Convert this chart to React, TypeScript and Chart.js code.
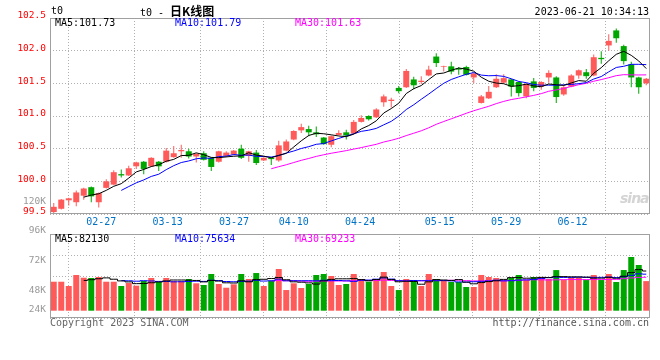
import React, { useEffect, useRef } from 'react';
import { Chart, registerables } from 'chart.js';

Chart.register(...registerables);

// ---------- data ----------
const dates = [
  '02-23', '02-24', '02-27', '02-28',
  '03-01', '03-02', '03-03', '03-06', '03-07', '03-08', '03-09', '03-10', '03-13', '03-14', '03-15', '03-16', '03-17',
  '03-20', '03-21', '03-22', '03-23', '03-24', '03-27', '03-28', '03-29', '03-30', '03-31',
  '04-03', '04-04', '04-06', '04-07', '04-10', '04-11', '04-12', '04-13', '04-14', '04-17', '04-18', '04-19', '04-20',
  '04-21', '04-24', '04-25', '04-26', '04-27', '04-28',
  '05-04', '05-05', '05-08', '05-09', '05-10', '05-11', '05-12', '05-15', '05-16', '05-17', '05-18', '05-19',
  '05-22', '05-23', '05-24', '05-25', '05-26', '05-29', '05-30', '05-31',
  '06-01', '06-02', '06-05', '06-06', '06-07', '06-08', '06-09', '06-12', '06-13', '06-14', '06-15', '06-16', '06-19', '06-20',
];

const opens = [
  99.53, 99.58, 99.71, 99.68, 99.78, 99.91, 99.68, 99.90, 99.95, 100.11,
  100.09, 100.23, 100.30, 100.23, 100.30, 100.30, 100.37, 100.46, 100.46, 100.38,
  100.43, 100.36, 100.30, 100.39, 100.41, 100.50, 100.39, 100.44, 100.32, 100.36,
  100.32, 100.47, 100.64, 100.78, 100.80, 100.75, 100.67, 100.56, 100.71, 100.75,
  100.73, 100.91, 101.00, 100.98, 101.21, 101.23, 101.43, 101.44, 101.56, 101.52,
  101.62, 101.91, 101.75, 101.76, 101.73, 101.75, 101.59, 101.20, 101.27, 101.44,
  101.51, 101.56, 101.52, 101.30, 101.53, 101.45, 101.59, 101.59, 101.33, 101.45,
  101.62, 101.67, 101.62, 101.89, 102.08, 102.31, 102.07, 101.79, 101.59, 101.50,
];
const closes = [
  99.61, 99.72, 99.74, 99.83, 99.89, 99.77, 99.82, 100.00, 100.14, 100.09,
  100.20, 100.29, 100.19, 100.36, 100.23, 100.47, 100.43, 100.48, 100.38, 100.42,
  100.33, 100.22, 100.46, 100.44, 100.47, 100.36, 100.46, 100.28, 100.36, 100.34,
  100.55, 100.61, 100.77, 100.83, 100.75, 100.72, 100.57, 100.69, 100.74, 100.70,
  100.91, 100.97, 100.95, 101.10, 101.30, 101.25, 101.38, 101.69, 101.47, 101.54,
  101.71, 101.81, 101.76, 101.68, 101.71, 101.63, 101.65, 101.30, 101.37, 101.57,
  101.58, 101.45, 101.35, 101.49, 101.43, 101.52, 101.66, 101.29, 101.44, 101.62,
  101.70, 101.61, 101.90, 101.87, 102.15, 102.19, 101.84, 101.59, 101.44, 101.57,
];
const highs = [
  99.67, 99.73, 99.75, 99.86, 99.90, 99.92, 99.83, 100.03, 100.17, 100.18,
  100.24, 100.30, 100.31, 100.37, 100.31, 100.51, 100.54, 100.56, 100.50, 100.43,
  100.46, 100.37, 100.47, 100.46, 100.48, 100.56, 100.47, 100.48, 100.37, 100.37,
  100.62, 100.64, 100.78, 100.88, 100.85, 100.84, 100.68, 100.70, 100.78, 100.79,
  100.94, 101.01, 101.01, 101.12, 101.33, 101.28, 101.46, 101.72, 101.60, 101.61,
  101.77, 101.96, 101.77, 101.83, 101.75, 101.77, 101.66, 101.32, 101.46, 101.64,
  101.64, 101.57, 101.53, 101.50, 101.58, 101.53, 101.70, 101.61, 101.47, 101.64,
  101.71, 101.72, 101.94, 101.99, 102.25, 102.34, 102.09, 101.83, 101.60, 101.58,
];
const lows = [
  99.51, 99.57, 99.63, 99.62, 99.72, 99.68, 99.60, 99.89, 99.94, 100.06,
  100.08, 100.19, 100.11, 100.22, 100.16, 100.29, 100.36, 100.36, 100.35, 100.29,
  100.32, 100.16, 100.29, 100.37, 100.40, 100.34, 100.30, 100.25, 100.31, 100.25,
  100.30, 100.46, 100.63, 100.74, 100.69, 100.68, 100.56, 100.52, 100.70, 100.64,
  100.72, 100.90, 100.93, 100.97, 101.14, 101.13, 101.35, 101.43, 101.41, 101.49,
  101.61, 101.75, 101.68, 101.64, 101.63, 101.62, 101.50, 101.19, 101.26, 101.43,
  101.50, 101.30, 101.30, 101.27, 101.38, 101.40, 101.51, 101.20, 101.31, 101.44,
  101.57, 101.57, 101.61, 101.80, 102.00, 102.12, 101.79, 101.44, 101.34, 101.47,
];
const volumes = [
  60000, 60000, 51100, 73900, 68300, 67700, 69800, 60000, 60000, 51100,
  57300, 51800, 61500, 67700, 59400, 67700, 61500, 61500, 65600, 56700,
  53200, 76000, 55300, 47600, 54600, 76000, 65600, 78000, 51100, 62100,
  86300, 42800, 56700, 47000, 55300, 73900, 76000, 71800, 53200, 55300,
  76000, 65600, 60000, 65600, 80100, 51100, 42800, 65600, 63500, 51100,
  76000, 65600, 61500, 59400, 59400, 49100, 49100, 74000, 69800, 67700,
  63500, 67700, 73900, 63500, 69800, 69800, 65600, 84100, 63500, 67700,
  68700, 63500, 73900, 63500, 76000, 59400, 84200, 111200, 94600, 61300,
];

const priceTickValues = [99.5, 100.0, 100.5, 101.0, 101.5, 102.0, 102.5];
const dateTickLabels = ['02-27', '03-13', '03-27', '04-10', '04-24', '05-15', '05-29', '06-12'];
const volumeTickLabels = ['120K', '96K', '72K', '48K', '24K'];
const volumeTickValues = [120000, 96000, 72000, 48000, 24000];

const priceLegend = ['MA5:101.73', 'MA10:101.79', 'MA30:101.63'];
const volumeLegend = ['MA5:82130', 'MA10:75634', 'MA30:69233'];
const maPeriods = [5, 10, 30];

// ---------- styles ----------
const MONO = '"DejaVu Sans Mono", "Liberation Mono", monospace';
const UP = '#ff5a5a';
const DOWN = '#00a600';
const MA_COLORS = ['#000000', '#0000ff', '#ff00ff'];
const GRID = '#b0b0b0';
const FRAME = '#a0a0a0';

function movingAverage(values: number[], n: number): (number | null)[] {
  return values.map((_, i) => {
    if (i < n - 1) return null;
    let s = 0;
    for (let k = i - n + 1; k <= i; k++) s += values[k];
    return s / n;
  });
}

const candleColors = closes.map((c, i) => (c >= opens[i] ? UP : DOWN));
const dateTickIndex = dateTickLabels.map((d) => dates.indexOf(d));

const framePlugin = {
  id: 'frame',
  afterDatasetsDraw(chart: any) {
    const { left, top, right, bottom } = chart.chartArea;
    const ctx = chart.ctx;
    ctx.save();
    ctx.strokeStyle = FRAME;
    ctx.lineWidth = 1;
    ctx.strokeRect(Math.round(left) + 0.5, Math.round(top) + 0.5, Math.round(right - left) - 1, Math.round(bottom - top) - 1);
    ctx.restore();
  },
};

const volumeLabelPlugin = {
  id: 'volLabels',
  afterDraw(chart: any) {
    const s = chart.scales.yLab;
    const ctx = chart.ctx;
    ctx.save();
    ctx.font = `9.5px ${MONO}`;
    ctx.fillStyle = '#999999';
    ctx.textAlign = 'right';
    ctx.textBaseline = 'middle';
    volumeTickValues.forEach((v, i) => {
      const y = Math.min(s.getPixelForValue(v), chart.chartArea.bottom - 8);
      ctx.fillText(volumeTickLabels[i], chart.chartArea.left - 4, y);
    });
    ctx.restore();
  },
};

const gridAxis = (showLabels: boolean) => ({
  type: 'linear' as const,
  position: 'bottom' as const,
  min: -0.07,
  max: 79.02,
  afterBuildTicks: (scale: any) => {
    scale.ticks = dateTickIndex.map((v) => ({ value: v }));
  },
  afterFit: (scale: any) => {
    scale.height = showLabels ? 20 : 0;
  },
  ticks: {
    display: showLabels,
    autoSkip: false,
    maxRotation: 0,
    padding: 2,
    color: '#0072c6',
    font: { family: MONO, size: 10 },
    callback: (v: any) => dates[Number(v)],
  },
  grid: { color: GRID, lineWidth: 1, drawTicks: false },
  border: { display: false, dash: [1, 2] },
});

export default function App() {
  const priceRef = useRef<HTMLCanvasElement>(null);
  const volRef = useRef<HTMLCanvasElement>(null);

  useEffect(() => {
    const priceMAs = maPeriods.map((n) => movingAverage(closes, n));
    const volMAs = maPeriods.map((n) => movingAverage(volumes, n));

    const priceChart = new Chart(priceRef.current as HTMLCanvasElement, {
      type: 'bar',
      data: {
        labels: dates,
        datasets: [
          ...priceMAs.map((d, k) => ({
            type: 'line' as const,
            label: `MA${maPeriods[k]}`,
            data: d,
            borderColor: MA_COLORS[k],
            borderWidth: 1,
            pointRadius: 0,
            tension: 0,
            order: k,
            xAxisID: 'x',
            yAxisID: 'y',
          })),
          {
            type: 'bar' as const,
            label: 'body',
            data: opens.map((o, i) => [o, closes[i]]),
            backgroundColor: candleColors,
            barThickness: 6,
            grouped: false,
            inflateAmount: 0,
            order: 10,
            xAxisID: 'x',
            yAxisID: 'y',
          },
          {
            type: 'bar' as const,
            label: 'wick',
            data: lows.map((l, i) => [l, highs[i]]),
            backgroundColor: candleColors,
            barThickness: 1,
            grouped: false,
            inflateAmount: 0,
            order: 11,
            xAxisID: 'x',
            yAxisID: 'y',
          },
        ] as any,
      },
      options: {
        animation: false,
        responsive: false,
        maintainAspectRatio: false,
        devicePixelRatio: 1,
        layout: { padding: { left: 0, right: 10, top: 18, bottom: 0 } },
        plugins: { legend: { display: false }, tooltip: { enabled: false } },
        scales: {
          x: { type: 'category', display: false, offset: true },
          xg: gridAxis(true) as any,
          y: {
            type: 'linear',
            min: 99.5,
            max: 102.5,
            afterBuildTicks: (scale: any) => {
              scale.ticks = priceTickValues.map((v) => ({ value: v }));
            },
            afterFit: (scale: any) => {
              scale.width = 50;
            },
            ticks: {
              color: '#ff0000',
              padding: 4,
              labelOffset: -2,
              font: { family: MONO, size: 9.5 },
              callback: (v: any) => Number(v).toFixed(1),
            },
            grid: { color: GRID, lineWidth: 1, drawTicks: false },
            border: { display: false, dash: [1, 2] },
          },
        },
      },
      plugins: [framePlugin],
    });

    const volChart = new Chart(volRef.current as HTMLCanvasElement, {
      type: 'bar',
      data: {
        labels: dates,
        datasets: [
          ...volMAs.map((d, k) => ({
            type: 'line' as const,
            label: `VMA${maPeriods[k]}`,
            data: d,
            borderColor: MA_COLORS[k],
            borderWidth: 1,
            pointRadius: 0,
            stepped: 'middle' as const,
            order: k,
            xAxisID: 'x',
            yAxisID: 'y',
          })),
          {
            type: 'bar' as const,
            label: 'volume',
            data: volumes,
            backgroundColor: candleColors,
            barThickness: 6,
            inflateAmount: 0,
            order: 10,
            xAxisID: 'x',
            yAxisID: 'y',
          },
        ] as any,
      },
      options: {
        animation: false,
        responsive: false,
        maintainAspectRatio: false,
        devicePixelRatio: 1,
        layout: { padding: { left: 50, right: 10, top: 234, bottom: 42 } },
        plugins: { legend: { display: false }, tooltip: { enabled: false } },
        scales: {
          x: { type: 'category', display: false, offset: true },
          xg: gridAxis(false) as any,
          y: { type: 'linear', display: false, min: -15100, max: 158800 },
          yG: {
            type: 'linear',
            position: 'left',
            min: 0,
            max: 4,
            ticks: { display: false, stepSize: 1 },
            afterFit: (scale: any) => {
              scale.width = 0;
            },
            grid: { color: GRID, lineWidth: 1, drawTicks: false },
            border: { display: false, dash: [1, 2] },
          },
          yLab: { type: 'linear', display: false, min: 25815, max: 93580 },
        },
      },
      plugins: [framePlugin, volumeLabelPlugin],
    });

    return () => {
      priceChart.destroy();
      volChart.destroy();
    };
  }, []);

  const txt = (extra: React.CSSProperties): React.CSSProperties => ({
    position: 'absolute',
    fontFamily: MONO,
    fontSize: 10,
    lineHeight: '12px',
    whiteSpace: 'pre',
    ...extra,
  });

  return (
    <div style={{ position: 'fixed', left: 0, top: 0, width: 660, height: 360, background: '#ffffff', overflow: 'hidden' }}>
      <canvas ref={priceRef} width={660} height={234} style={{ position: 'absolute', left: 0, top: 0 }} />
      <canvas ref={volRef} width={660} height={360} style={{ position: 'absolute', left: 0, top: 0 }} />

      <div style={txt({ left: 51, top: 5, color: '#000' })}>t0</div>
      <div style={txt({ left: 140, top: 4, color: '#000', lineHeight: '14px' })}>
        t0 -
        <span style={{ fontFamily: '"Noto Sans CJK SC", sans-serif', fontSize: 12, fontWeight: 'bold', marginLeft: 6 }}>日K线图</span>
      </div>
      <div style={txt({ right: 11, top: 6, color: '#000', textAlign: 'right' })}>2023-06-21 10:34:13</div>

      {priceLegend.map((t, k) => (
        <div key={'p' + t} style={txt({ left: 55 + k * 120, top: 17, color: MA_COLORS[k] })}>{t}</div>
      ))}
      {volumeLegend.map((t, k) => (
        <div key={'v' + t} style={txt({ left: 55 + k * 120, top: 233, color: MA_COLORS[k] })}>{t}</div>
      ))}

      <div style={txt({ left: 50, top: 317, color: '#666' })}>Copyright 2023 SINA.COM</div>
      <div style={txt({ right: 11, top: 317, color: '#555', textAlign: 'right' })}>http://finance.sina.com.cn</div>
      <div
        style={{
          position: 'absolute',
          left: 620,
          top: 190,
          fontFamily: '"DejaVu Sans", sans-serif',
          fontSize: 14,
          lineHeight: '16px',
          fontStyle: 'italic',
          fontWeight: 'bold',
          color: 'rgba(170,170,170,0.5)',
          letterSpacing: -1,
        }}
      >
        sina
      </div>
    </div>
  );
}
